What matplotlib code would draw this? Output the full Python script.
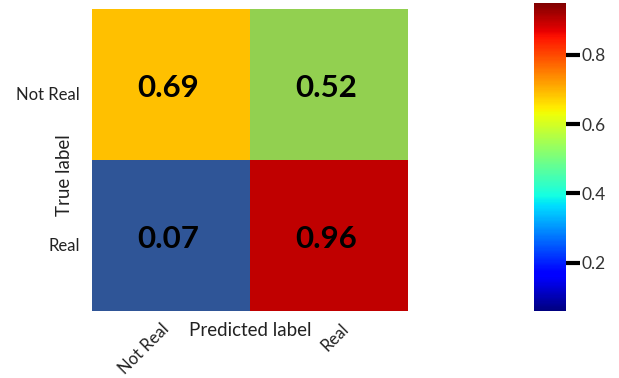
import numpy as np
import matplotlib.pyplot as plt
from matplotlib.colors import ListedColormap, BoundaryNorm, Normalize
from matplotlib.cm import ScalarMappable
from matplotlib.transforms import ScaledTranslation

plt.rcParams['font.family'] = ['Lato', 'DejaVu Sans']

# confusion matrix values
class_names = ["Not Real", "Real"]
cm_values = np.array([[0.69, 0.52],
                      [0.07, 0.96]])

# cell fill colours, one per value band
cell_colors = ["#2F5597", "#92D050", "#FFC000", "#C00000"]
cell_bounds = [0.0, 0.3, 0.6, 0.8, 1.0]

fig = plt.figure(figsize=(6.19, 3.78), dpi=100)
ax = fig.add_axes([92 / 619, 1 - 311 / 378, 316 / 619, 302 / 378])

cmap_cells = ListedColormap(cell_colors)
norm_cells = BoundaryNorm(cell_bounds, cmap_cells.N)
ax.imshow(cm_values, cmap=cmap_cells, norm=norm_cells, aspect="auto")

for i in range(cm_values.shape[0]):
    for j in range(cm_values.shape[1]):
        ax.text(j - 0.02, i + 0.02, f"{cm_values[i, j]:.2f}", ha="center", va="center",
                fontsize=22.5, fontweight="bold", color="black")

ax.set_xticks(range(len(class_names)))
ax.set_yticks(range(len(class_names)))
ax.set_xticklabels(class_names, rotation=45, ha="right", rotation_mode="anchor",
                   fontsize=12, color="#222222")
ax.set_yticklabels(class_names, fontsize=12, color="#222222")
ax.tick_params(length=0)
ax.tick_params(axis="y", pad=9)
ax.tick_params(axis="x", pad=7)
for s in ax.spines.values():
    s.set_visible(False)

# nudge the tick labels a little
for lbl in ax.get_yticklabels():
    lbl.set_transform(lbl.get_transform() + ScaledTranslation(0, -0.09, fig.dpi_scale_trans))
x_shift = [-0.1, 0.12]
for lbl, dx in zip(ax.get_xticklabels(), x_shift):
    lbl.set_transform(lbl.get_transform() + ScaledTranslation(dx, 0, fig.dpi_scale_trans))

ax.set_ylabel("True label", fontsize=13.5, color="#222222")
ax.yaxis.set_label_coords(-0.06, 0.45)
ax.set_xlabel("Predicted label", fontsize=13.5, color="#222222")
ax.xaxis.set_label_coords(0.5, -0.035)
ax.xaxis.label.set_va("top")

# colour scale bar
cax = fig.add_axes([534 / 619, 1 - 311 / 378, 32 / 619, 308 / 378])
sm = ScalarMappable(norm=Normalize(vmin=cm_values.min() - 0.01, vmax=cm_values.max() - 0.01),
                    cmap="jet")
cb = fig.colorbar(sm, cax=cax)
cb.outline.set_visible(False)
cb.set_ticks([0.2, 0.4, 0.6, 0.8])
cb.ax.tick_params(length=10, width=3, color="black", labelsize=12.5, pad=1,
                  labelcolor="#333333")

fig.savefig("out.png", dpi=100)
